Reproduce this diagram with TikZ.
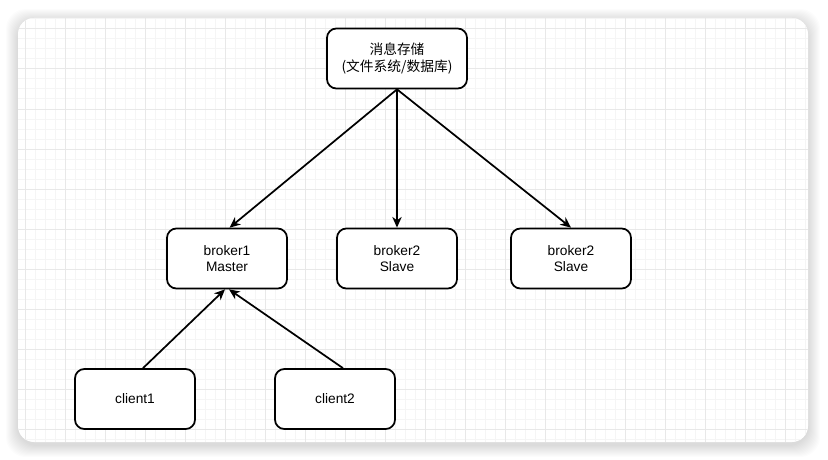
\documentclass[tikz,border=0pt]{standalone}
\usepackage{fontspec}
\setmainfont{Liberation Sans}
\newfontfamily\cjk{Noto Sans CJK SC}
\usetikzlibrary{arrows.meta,positioning}

\begin{document}
\begin{tikzpicture}[
    x=0.75pt, y=-0.75pt,
    nodebox/.style={rectangle, rounded corners=7pt, minimum width=90pt, minimum height=45pt, text centered, align=center, draw=black, line width=1.3pt, fill=white, font=\fontsize{10.3}{12.2}\selectfont},
    arrow/.style={line width=1.3pt,-{Stealth[length=8pt,width=7pt,inset=2.5pt]}},
    minorline/.style={draw=gray!8, line width=0.75pt},
    majorline/.style={draw=gray!18, line width=0.75pt}
]
\useasboundingbox (0,0) rectangle (828,460);

% card with shadow
\foreach \s in {1,...,12}
  \fill[black, opacity=0.013, rounded corners=15pt] (18-\s,18-\s+3) rectangle (808+\s,442+\s+3);
\fill[white, rounded corners=12pt] (18,18) rectangle (808,442);

% grid
\begin{scope}
\clip[rounded corners=12pt] (18,18) rectangle (808,442);
\foreach \x in {25,35,...,805} \draw[minorline] (\x,18) -- (\x,442);
\foreach \y in {19,29,...,439} \draw[minorline] (18,\y) -- (808,\y);
\foreach \x in {25,65,...,785} \draw[majorline] (\x,18) -- (\x,442);
\foreach \y in {29,69,...,429} \draw[majorline] (18,\y) -- (808,\y);
\end{scope}

% storage
\node[nodebox, minimum width=105pt] (store) at (397,58.5) {\cjk 消息存储\\\cjk (文件系统/数据库)};

% brokers
\node[nodebox] (master) at (227,258.5) {broker1\\Master};
\node[nodebox] (slaveA) at (397,258.5) {broker2\\Slave};
\node[nodebox] (slaveB) at (571,258.5) {broker2\\Slave};

% clients
\node[nodebox] (client1) at (135,399) {client1};
\node[nodebox] (client2) at (335,399) {client2};

% Arrows
\draw[arrow] (store.south) -- ([xshift=2pt]master.north);
\draw[arrow] (store.south) -- (slaveA.north);
\draw[arrow] (store.south) -- (slaveB.north);

\draw[arrow] ([xshift=6pt]client1.north) -- ([xshift=-1.5pt]master.south);
\draw[arrow] ([xshift=6pt]client2.north) -- ([xshift=1.5pt]master.south);

\end{tikzpicture}
\end{document}
